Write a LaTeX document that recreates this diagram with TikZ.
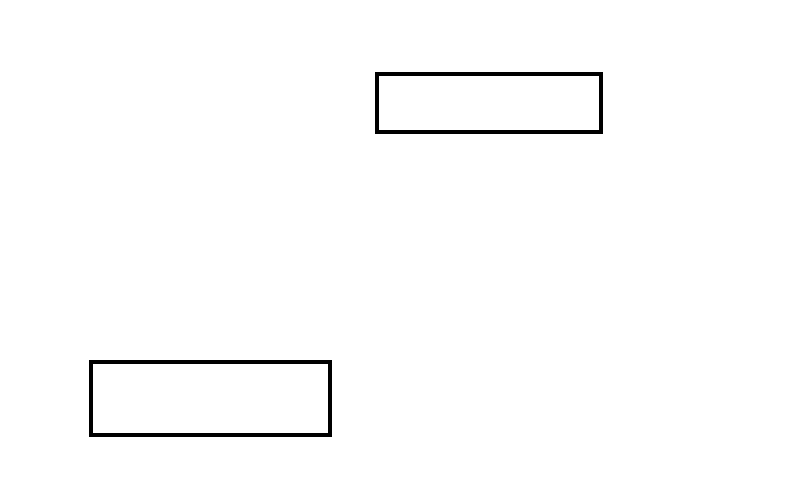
\documentclass[tikz,border=0pt]{standalone}
\usepackage{tikz}
\usetikzlibrary{positioning}

\tikzset{
  emptybox/.style={draw, line width=4.5pt, inner sep=0pt, fill=white}
}

\begin{document}
\begin{tikzpicture}[x=1pt, y=1pt]

    \useasboundingbox [fill=white] (0, 0) rectangle (800, 485);

    \node [emptybox, minimum width=224pt, minimum height=58pt]
    (upperbox) at (489, 382) {};
    \node [emptybox, minimum width=239pt, minimum height=73pt]
    (lowerbox) at (210.5, 86.5) {};

  \end{tikzpicture}
\end{document}
